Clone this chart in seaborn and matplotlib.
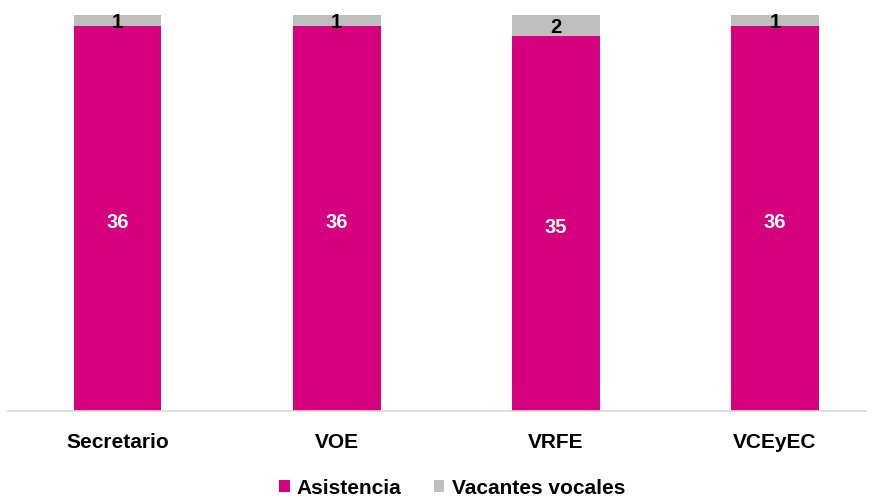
import pandas as pd
import numpy as np
import matplotlib.pyplot as plt
import seaborn as sns

categorias = ['Secretario', 'VOE', 'VRFE', 'VCEyEC']
asistencia = [36, 36, 35, 36]
vacantes = [1, 1, 2, 1]

color_asis = '#D6007F'
color_vac = '#BFBFBF'

sns.set_style('white')
plt.rcParams['font.family'] = ['Liberation Sans', 'DejaVu Sans']
plt.rcParams['text.color'] = 'black'
plt.rcParams['xtick.color'] = 'black'

df = pd.DataFrame({'Categoria': categorias, 'Asistencia': asistencia, 'Vacantes': vacantes})
df['Total'] = df['Asistencia'] + df['Vacantes']

fig = plt.figure(figsize=(8.72, 4.98), dpi=100)
ax = fig.add_axes([8 / 872, 1 - 411 / 498, 858 / 872, 396 / 498])

# barra total (gris) y encima la asistencia (magenta)
sns.barplot(data=df, x='Categoria', y='Total', color=color_vac, width=0.40,
            saturation=1, linewidth=0, ax=ax, label='Vacantes vocales')
sns.barplot(data=df, x='Categoria', y='Asistencia', color=color_asis, width=0.40,
            saturation=1, linewidth=0, ax=ax, label='Asistencia')

for i, row in df.iterrows():
    ax.annotate(str(row['Asistencia']), (i, row['Asistencia'] / 2), xytext=(0, -3),
                textcoords='offset points', ha='center', va='center',
                color='white', fontsize=14.5, fontweight='bold')
    ax.annotate(str(row['Vacantes']), (i, row['Asistencia'] + row['Vacantes'] / 2),
                xytext=(0, -1.5), textcoords='offset points', ha='center',
                va='center', color='black', fontsize=14.5, fontweight='bold')

ax.set_ylim(0, 37)
ax.set_xlim(-0.5, 3.5 - 18.5 / 219)
ax.set_yticks([])
ax.set_xlabel('')
ax.set_ylabel('')
for s in ['top', 'right', 'left']:
    ax.spines[s].set_visible(False)
ax.spines['bottom'].set_color('#D9D9D9')
ax.spines['bottom'].set_linewidth(1.2)
ax.tick_params(axis='x', length=0, pad=16, labelsize=15, labelcolor='black')
for lbl in ax.get_xticklabels():
    lbl.set_fontweight('bold')

handles, labels = ax.get_legend_handles_labels()
order = [labels.index('Asistencia'), labels.index('Vacantes vocales')]
leg = ax.legend([handles[k] for k in order], [labels[k] for k in order],
                loc='center', bbox_to_anchor=(452 / 872, 1 - 488 / 498),
                bbox_transform=fig.transFigure, ncol=2, frameon=False,
                prop={'size': 15, 'weight': 'bold'}, handlelength=0.5, handleheight=0.5,
                handletextpad=0.35, columnspacing=1.55)
for t in leg.get_texts():
    t.set_color('black')

plt.savefig('out.png', dpi=100)
